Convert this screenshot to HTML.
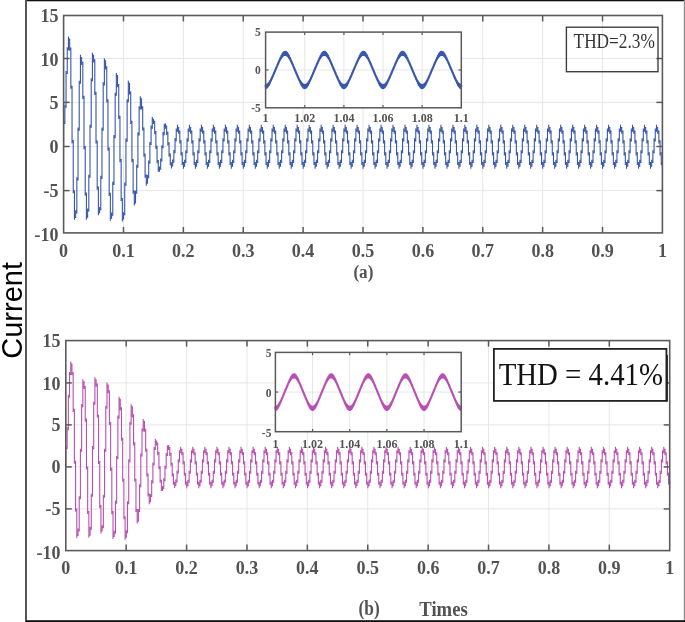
<!DOCTYPE html>
<html><head><meta charset="utf-8"><style>
html,body{margin:0;padding:0;background:#fff;}
body{width:685px;height:622px;overflow:hidden;}
svg{display:block;}
svg{will-change:transform;}
.tk{font-family:"Liberation Serif",serif;font-weight:bold;fill:#525252;}
.thd{font-family:"Liberation Serif",serif;}
.cur{font-family:"Liberation Sans",sans-serif;fill:#000;}
</style></head><body>
<svg width="685" height="622" viewBox="0 0 685 622">
<rect width="685" height="622" fill="#fff"/>
<line x1="123.48" y1="15.5" x2="123.48" y2="232.9" stroke="#e6e6e6" stroke-width="1"/>
<line x1="183.36" y1="15.5" x2="183.36" y2="232.9" stroke="#e6e6e6" stroke-width="1"/>
<line x1="243.24" y1="15.5" x2="243.24" y2="232.9" stroke="#e6e6e6" stroke-width="1"/>
<line x1="303.12" y1="15.5" x2="303.12" y2="232.9" stroke="#e6e6e6" stroke-width="1"/>
<line x1="363" y1="15.5" x2="363" y2="232.9" stroke="#e6e6e6" stroke-width="1"/>
<line x1="422.88" y1="15.5" x2="422.88" y2="232.9" stroke="#e6e6e6" stroke-width="1"/>
<line x1="482.76" y1="15.5" x2="482.76" y2="232.9" stroke="#e6e6e6" stroke-width="1"/>
<line x1="542.64" y1="15.5" x2="542.64" y2="232.9" stroke="#e6e6e6" stroke-width="1"/>
<line x1="602.52" y1="15.5" x2="602.52" y2="232.9" stroke="#e6e6e6" stroke-width="1"/>
<line x1="63.6" y1="58.5" x2="662.4" y2="58.5" stroke="#e6e6e6" stroke-width="1"/>
<line x1="63.6" y1="102.4" x2="662.4" y2="102.4" stroke="#e6e6e6" stroke-width="1"/>
<line x1="63.6" y1="146.5" x2="662.4" y2="146.5" stroke="#e6e6e6" stroke-width="1"/>
<line x1="63.6" y1="190.6" x2="662.4" y2="190.6" stroke="#e6e6e6" stroke-width="1"/>
<path d="M63.6 146.5V120.92V126.21V123.57H64.86V109.96V104.66V107.31H66.06V70.91V76.18V73.54H67.25V52.39V47.23V49.81H68.45V36.59V41.75V39.17H69.65V50.63V45.47V48.05H70.85V83.55V88.82V86.19H72.04V143.17V137.87V140.52H73.24V188.15V193.33V190.79H74.44V219.87V214.8V217.34H75.64V210.3V215.38V212.84H76.83V182.64V177.35V179.99H78.03V127.47V132.76V130.12H79.23V85.94V80.67V83.31H80.43V54.85V60.04V57.43H81.62V64.93V59.66V62.3H82.82V93.73V99V96.36H84.02V149.22V143.93V146.58H85.22V190.62V195.69V193.16H86.41V219.63V214.55V217.09H87.61V208.52V213.59V211.06H88.81V179.93V174.63V177.28H90.01V124.65V129.95V127.3H91.2V83.45V78.18V80.81H92.4V52.68V57.84V55.26H93.6V62.42V57.18V59.78H94.8V89.76V95.02V92.39H96V143.58V138.28V140.93H97.19V184.5V189.79V187.14H98.39V215.26V210.19V212.72H99.59V207.09V212.17V209.63H100.79V181.02V175.73V178.37H101.98V127.5V132.79V130.14H103.18V87.62V82.35V84.99H104.38V58.19V63.45V60.82H105.58V69.43V64.16V66.79H106.77V97.24V102.51V99.88H107.97V150.7V145.41V148.05H109.17V190.83V195.9V193.37H110.37V220.81V215.74V218.28H111.56V212.62V217.7V215.16H112.76V187.14V181.85V184.49H113.96V134.95V140.24V137.6H115.16V97.96V92.69V95.32H116.35V72.91V78.18V75.54H117.55V87.24V81.98V84.61H118.75V113.69V118.99V116.34H119.95V162.18V156.89V159.53H121.14V195.94V201.02V198.48H122.34V221.6V216.53V219.06H123.54V212.16V217.23V214.69H124.74V187.84V182.55V185.2H125.94V138.49V143.79V141.14H127.13V104.4V99.13V101.76H128.33V80.78V86.05V83.42H129.53V94.57V89.31V91.94H130.73V118.64V123.93V121.29H131.92V162.2V156.91V159.56H133.12V188.55V193.71V191.17H134.32V205.41V200.33V202.87H135.52V190.76V195.83V193.29H136.71V169.93V164.63V167.28H137.91V132.34V137.63V134.98H139.11V111.5V106.21V108.85H140.31V96.25V101.52V98.89H141.5V109.56V104.27V106.92H142.7V125.33V130.62V127.97H143.9V156.65V151.36V154H145.1V172.41V177.71V175.06H146.29V185.75V180.46V183.1H147.49V175V180.29V177.65H148.69V165.79V160.5V163.15H149.89V141.9V147.19V144.54H151.08V130.84V125.54V128.19H152.28V117.02V122.31V119.66H153.48V124.06V118.77V121.41H154.68V128.86V134.15V131.5H155.88V148.93V143.63V146.28H157.07V157.86V163.16V160.51H158.27V171.8V166.51V169.16H159.47V166.57V171.86V169.21H160.67V163.69V158.4V161.04H161.86V145.18V150.47V147.82H163.06V137.25V131.96V134.6H164.26V123.79V129.08V126.43H165.46V128.8V123.51V126.15H166.65V129.69V134.98V132.33H167.85V145.38V140.09V142.73H169.05V151.4V156.69V154.05H170.25V165.33V160.04V162.68H171.44V163.26V168.55V165.9H172.64V164.88V159.59V162.23H173.84V149.97V155.26V152.62H175.04V143.38V138.09V140.73H176.23V128.47V133.77V131.12H177.43V130.09V124.8V127.45H178.63V128.5V133.79V131.15H179.83V143.47V138.18V140.83H181.02V150.15V155.44V152.79H182.22V165.12V159.83V162.47H183.42V163.52V168.81V166.17H184.62V165.12V159.83V162.47H185.82V150.15V155.44V152.79H187.01V143.47V138.18V140.83H188.21V128.5V133.79V131.15H189.41V130.09V124.8V127.45H190.61V128.5V133.79V131.15H191.8V143.47V138.18V140.83H193V150.15V155.44V152.79H194.2V165.12V159.83V162.47H195.4V163.52V168.81V166.17H196.59V165.12V159.83V162.47H197.79V150.15V155.44V152.79H198.99V143.47V138.18V140.83H200.19V128.5V133.79V131.15H201.38V130.09V124.8V127.45H202.58V128.5V133.79V131.15H203.78V143.47V138.18V140.83H204.98V150.15V155.44V152.79H206.17V165.12V159.83V162.47H207.37V163.52V168.81V166.17H208.57V165.12V159.83V162.47H209.77V150.15V155.44V152.79H210.96V143.47V138.18V140.83H212.16V128.5V133.79V131.15H213.36V130.09V124.8V127.45H214.56V128.5V133.79V131.15H215.76V143.47V138.18V140.83H216.95V150.15V155.44V152.79H218.15V165.12V159.83V162.47H219.35V163.52V168.81V166.17H220.55V165.12V159.83V162.47H221.74V150.15V155.44V152.79H222.94V143.47V138.18V140.83H224.14V128.5V133.79V131.15H225.34V130.09V124.8V127.45H226.53V128.5V133.79V131.15H227.73V143.47V138.18V140.83H228.93V150.15V155.44V152.79H230.13V165.12V159.83V162.47H231.32V163.52V168.81V166.17H232.52V165.12V159.83V162.47H233.72V150.15V155.44V152.79H234.92V143.47V138.18V140.83H236.11V128.5V133.79V131.15H237.31V130.09V124.8V127.45H238.51V128.5V133.79V131.15H239.71V143.47V138.18V140.83H240.9V150.15V155.44V152.79H242.1V165.12V159.83V162.47H243.3V163.52V168.81V166.17H244.5V165.12V159.83V162.47H245.7V150.15V155.44V152.79H246.89V143.47V138.18V140.83H248.09V128.5V133.79V131.15H249.29V130.09V124.8V127.45H250.49V128.5V133.79V131.15H251.68V143.47V138.18V140.83H252.88V150.15V155.44V152.79H254.08V165.12V159.83V162.47H255.28V163.52V168.81V166.17H256.47V165.12V159.83V162.47H257.67V150.15V155.44V152.79H258.87V143.47V138.18V140.83H260.07V128.5V133.79V131.15H261.26V130.09V124.8V127.45H262.46V128.5V133.79V131.15H263.66V143.47V138.18V140.83H264.86V150.15V155.44V152.79H266.05V165.12V159.83V162.47H267.25V163.52V168.81V166.17H268.45V165.12V159.83V162.47H269.65V150.15V155.44V152.79H270.84V143.47V138.18V140.83H272.04V128.5V133.79V131.15H273.24V130.09V124.8V127.45H274.44V128.5V133.79V131.15H275.64V143.47V138.18V140.83H276.83V150.15V155.44V152.79H278.03V165.12V159.83V162.47H279.23V163.52V168.81V166.17H280.43V165.12V159.83V162.47H281.62V150.15V155.44V152.79H282.82V143.47V138.18V140.83H284.02V128.5V133.79V131.15H285.22V130.09V124.8V127.45H286.41V128.5V133.79V131.15H287.61V143.47V138.18V140.83H288.81V150.15V155.44V152.79H290.01V165.12V159.83V162.47H291.2V163.52V168.81V166.17H292.4V165.12V159.83V162.47H293.6V150.15V155.44V152.79H294.8V143.47V138.18V140.83H295.99V128.5V133.79V131.15H297.19V130.09V124.8V127.45H298.39V128.5V133.79V131.15H299.59V143.47V138.18V140.83H300.78V150.15V155.44V152.79H301.98V165.12V159.83V162.47H303.18V163.52V168.81V166.17H304.38V165.12V159.83V162.47H305.58V150.15V155.44V152.79H306.77V143.47V138.18V140.83H307.97V128.5V133.79V131.15H309.17V130.09V124.8V127.45H310.37V128.5V133.79V131.15H311.56V143.47V138.18V140.83H312.76V150.15V155.44V152.79H313.96V165.12V159.83V162.47H315.16V163.52V168.81V166.17H316.35V165.12V159.83V162.47H317.55V150.15V155.44V152.79H318.75V143.47V138.18V140.83H319.95V128.5V133.79V131.15H321.14V130.09V124.8V127.45H322.34V128.5V133.79V131.15H323.54V143.47V138.18V140.83H324.74V150.15V155.44V152.79H325.93V165.12V159.83V162.47H327.13V163.52V168.81V166.17H328.33V165.12V159.83V162.47H329.53V150.15V155.44V152.79H330.72V143.47V138.18V140.83H331.92V128.5V133.79V131.15H333.12V130.09V124.8V127.45H334.32V128.5V133.79V131.15H335.52V143.47V138.18V140.83H336.71V150.15V155.44V152.79H337.91V165.12V159.83V162.47H339.11V163.52V168.81V166.17H340.31V165.12V159.83V162.47H341.5V150.15V155.44V152.79H342.7V143.47V138.18V140.83H343.9V128.5V133.79V131.15H345.1V130.09V124.8V127.45H346.29V128.5V133.79V131.15H347.49V143.47V138.18V140.83H348.69V150.15V155.44V152.79H349.89V165.12V159.83V162.47H351.08V163.52V168.81V166.17H352.28V165.12V159.83V162.47H353.48V150.15V155.44V152.79H354.68V143.47V138.18V140.83H355.87V128.5V133.79V131.15H357.07V130.09V124.8V127.45H358.27V128.5V133.79V131.15H359.47V143.47V138.18V140.83H360.66V150.15V155.44V152.79H361.86V165.12V159.83V162.47H363.06V163.52V168.81V166.17H364.26V165.12V159.83V162.47H365.46V150.15V155.44V152.79H366.65V143.47V138.18V140.83H367.85V128.5V133.79V131.15H369.05V130.09V124.8V127.45H370.25V128.5V133.79V131.15H371.44V143.47V138.18V140.83H372.64V150.15V155.44V152.79H373.84V165.12V159.83V162.47H375.04V163.52V168.81V166.17H376.23V165.12V159.83V162.47H377.43V150.15V155.44V152.79H378.63V143.47V138.18V140.83H379.83V128.5V133.79V131.15H381.02V130.09V124.8V127.45H382.22V128.5V133.79V131.15H383.42V143.47V138.18V140.83H384.62V150.15V155.44V152.79H385.81V165.12V159.83V162.47H387.01V163.52V168.81V166.17H388.21V165.12V159.83V162.47H389.41V150.15V155.44V152.79H390.6V143.47V138.18V140.83H391.8V128.5V133.79V131.15H393V130.09V124.8V127.45H394.2V128.5V133.79V131.15H395.4V143.47V138.18V140.83H396.59V150.15V155.44V152.79H397.79V165.12V159.83V162.47H398.99V163.52V168.81V166.17H400.19V165.12V159.83V162.47H401.38V150.15V155.44V152.79H402.58V143.47V138.18V140.83H403.78V128.5V133.79V131.15H404.98V130.09V124.8V127.45H406.17V128.5V133.79V131.15H407.37V143.47V138.18V140.83H408.57V150.15V155.44V152.79H409.77V165.12V159.83V162.47H410.96V163.52V168.81V166.17H412.16V165.12V159.83V162.47H413.36V150.15V155.44V152.79H414.56V143.47V138.18V140.83H415.75V128.5V133.79V131.15H416.95V130.09V124.8V127.45H418.15V128.5V133.79V131.15H419.35V143.47V138.18V140.83H420.54V150.15V155.44V152.79H421.74V165.12V159.83V162.47H422.94V163.52V168.81V166.17H424.14V165.12V159.83V162.47H425.34V150.15V155.44V152.79H426.53V143.47V138.18V140.83H427.73V128.5V133.79V131.15H428.93V130.09V124.8V127.45H430.13V128.5V133.79V131.15H431.32V143.47V138.18V140.83H432.52V150.15V155.44V152.79H433.72V165.12V159.83V162.47H434.92V163.52V168.81V166.17H436.11V165.12V159.83V162.47H437.31V150.15V155.44V152.79H438.51V143.47V138.18V140.83H439.71V128.5V133.79V131.15H440.9V130.09V124.8V127.45H442.1V128.5V133.79V131.15H443.3V143.47V138.18V140.83H444.5V150.15V155.44V152.79H445.69V165.12V159.83V162.47H446.89V163.52V168.81V166.17H448.09V165.12V159.83V162.47H449.29V150.15V155.44V152.79H450.48V143.47V138.18V140.83H451.68V128.5V133.79V131.15H452.88V130.09V124.8V127.45H454.08V128.5V133.79V131.15H455.28V143.47V138.18V140.83H456.47V150.15V155.44V152.79H457.67V165.12V159.83V162.47H458.87V163.52V168.81V166.17H460.07V165.12V159.83V162.47H461.26V150.15V155.44V152.79H462.46V143.47V138.18V140.83H463.66V128.5V133.79V131.15H464.86V130.09V124.8V127.45H466.05V128.5V133.79V131.15H467.25V143.47V138.18V140.83H468.45V150.15V155.44V152.79H469.65V165.12V159.83V162.47H470.84V163.52V168.81V166.17H472.04V165.12V159.83V162.47H473.24V150.15V155.44V152.79H474.44V143.47V138.18V140.83H475.63V128.5V133.79V131.15H476.83V130.09V124.8V127.45H478.03V128.5V133.79V131.15H479.23V143.47V138.18V140.83H480.42V150.15V155.44V152.79H481.62V165.12V159.83V162.47H482.82V163.52V168.81V166.17H484.02V165.12V159.83V162.47H485.22V150.15V155.44V152.79H486.41V143.47V138.18V140.83H487.61V128.5V133.79V131.15H488.81V130.09V124.8V127.45H490.01V128.5V133.79V131.15H491.2V143.47V138.18V140.83H492.4V150.15V155.44V152.79H493.6V165.12V159.83V162.47H494.8V163.52V168.81V166.17H495.99V165.12V159.83V162.47H497.19V150.15V155.44V152.79H498.39V143.47V138.18V140.83H499.59V128.5V133.79V131.15H500.78V130.09V124.8V127.45H501.98V128.5V133.79V131.15H503.18V143.47V138.18V140.83H504.38V150.15V155.44V152.79H505.57V165.12V159.83V162.47H506.77V163.52V168.81V166.17H507.97V165.12V159.83V162.47H509.17V150.15V155.44V152.79H510.36V143.47V138.18V140.83H511.56V128.5V133.79V131.15H512.76V130.09V124.8V127.45H513.96V128.5V133.79V131.15H515.16V143.47V138.18V140.83H516.35V150.15V155.44V152.79H517.55V165.12V159.83V162.47H518.75V163.52V168.81V166.17H519.95V165.12V159.83V162.47H521.14V150.15V155.44V152.79H522.34V143.47V138.18V140.83H523.54V128.5V133.79V131.15H524.74V130.09V124.8V127.45H525.93V128.5V133.79V131.15H527.13V143.47V138.18V140.83H528.33V150.15V155.44V152.79H529.53V165.12V159.83V162.47H530.72V163.52V168.81V166.17H531.92V165.12V159.83V162.47H533.12V150.15V155.44V152.79H534.32V143.47V138.18V140.83H535.51V128.5V133.79V131.15H536.71V130.09V124.8V127.45H537.91V128.5V133.79V131.15H539.11V143.47V138.18V140.83H540.3V150.15V155.44V152.79H541.5V165.12V159.83V162.47H542.7V163.52V168.81V166.17H543.9V165.12V159.83V162.47H545.1V150.15V155.44V152.79H546.29V143.47V138.18V140.83H547.49V128.5V133.79V131.15H548.69V130.09V124.8V127.45H549.89V128.5V133.79V131.15H551.08V143.47V138.18V140.83H552.28V150.15V155.44V152.79H553.48V165.12V159.83V162.47H554.68V163.52V168.81V166.17H555.87V165.12V159.83V162.47H557.07V150.15V155.44V152.79H558.27V143.47V138.18V140.83H559.47V128.5V133.79V131.15H560.66V130.09V124.8V127.45H561.86V128.5V133.79V131.15H563.06V143.47V138.18V140.83H564.26V150.15V155.44V152.79H565.45V165.12V159.83V162.47H566.65V163.52V168.81V166.17H567.85V165.12V159.83V162.47H569.05V150.15V155.44V152.79H570.24V143.47V138.18V140.83H571.44V128.5V133.79V131.15H572.64V130.09V124.8V127.45H573.84V128.5V133.79V131.15H575.04V143.47V138.18V140.83H576.23V150.15V155.44V152.79H577.43V165.12V159.83V162.47H578.63V163.52V168.81V166.17H579.83V165.12V159.83V162.47H581.02V150.15V155.44V152.79H582.22V143.47V138.18V140.83H583.42V128.5V133.79V131.15H584.62V130.09V124.8V127.45H585.81V128.5V133.79V131.15H587.01V143.47V138.18V140.83H588.21V150.15V155.44V152.79H589.41V165.12V159.83V162.47H590.6V163.52V168.81V166.17H591.8V165.12V159.83V162.47H593V150.15V155.44V152.79H594.2V143.47V138.18V140.83H595.39V128.5V133.79V131.15H596.59V130.09V124.8V127.45H597.79V128.5V133.79V131.15H598.99V143.47V138.18V140.83H600.18V150.15V155.44V152.79H601.38V165.12V159.83V162.47H602.58V163.52V168.81V166.17H603.78V165.12V159.83V162.47H604.98V150.15V155.44V152.79H606.17V143.47V138.18V140.83H607.37V128.5V133.79V131.15H608.57V130.09V124.8V127.45H609.77V128.5V133.79V131.15H610.96V143.47V138.18V140.83H612.16V150.15V155.44V152.79H613.36V165.12V159.83V162.47H614.56V163.52V168.81V166.17H615.75V165.12V159.83V162.47H616.95V150.15V155.44V152.79H618.15V143.47V138.18V140.83H619.35V128.5V133.79V131.15H620.54V130.09V124.8V127.45H621.74V128.5V133.79V131.15H622.94V143.47V138.18V140.83H624.14V150.15V155.44V152.79H625.33V165.12V159.83V162.47H626.53V163.52V168.81V166.17H627.73V165.12V159.83V162.47H628.93V150.15V155.44V152.79H630.12V143.47V138.18V140.83H631.32V128.5V133.79V131.15H632.52V130.09V124.8V127.45H633.72V128.5V133.79V131.15H634.92V143.47V138.18V140.83H636.11V150.15V155.44V152.79H637.31V165.12V159.83V162.47H638.51V163.52V168.81V166.17H639.71V165.12V159.83V162.47H640.9V150.15V155.44V152.79H642.1V143.47V138.18V140.83H643.3V128.5V133.79V131.15H644.5V130.09V124.8V127.45H645.69V128.5V133.79V131.15H646.89V143.47V138.18V140.83H648.09V150.15V155.44V152.79H649.29V165.12V159.83V162.47H650.48V163.52V168.81V166.17H651.68V165.12V159.83V162.47H652.88V150.15V155.44V152.79H654.08V143.47V138.18V140.83H655.27V128.5V133.79V131.15H656.47V130.09V124.8V127.45H657.67V128.5V133.79V131.15H658.87V143.47V138.18V140.83H660.06V150.15V155.44V152.79H661.26V165.12V159.83V162.47H662.4V163.52V168.81V166.17H662.4" fill="none" stroke="#3856ac" stroke-width="1.1" stroke-linejoin="miter"/>
<rect x="63.6" y="15.5" width="598.8" height="217.4" fill="none" stroke="#5a5a5a" stroke-width="1.6"/>
<line x1="123.48" y1="15.5" x2="123.48" y2="21.5" stroke="#5a5a5a" stroke-width="1.5"/>
<line x1="123.48" y1="232.9" x2="123.48" y2="226.9" stroke="#5a5a5a" stroke-width="1.5"/>
<line x1="183.36" y1="15.5" x2="183.36" y2="21.5" stroke="#5a5a5a" stroke-width="1.5"/>
<line x1="183.36" y1="232.9" x2="183.36" y2="226.9" stroke="#5a5a5a" stroke-width="1.5"/>
<line x1="243.24" y1="15.5" x2="243.24" y2="21.5" stroke="#5a5a5a" stroke-width="1.5"/>
<line x1="243.24" y1="232.9" x2="243.24" y2="226.9" stroke="#5a5a5a" stroke-width="1.5"/>
<line x1="303.12" y1="15.5" x2="303.12" y2="21.5" stroke="#5a5a5a" stroke-width="1.5"/>
<line x1="303.12" y1="232.9" x2="303.12" y2="226.9" stroke="#5a5a5a" stroke-width="1.5"/>
<line x1="363" y1="15.5" x2="363" y2="21.5" stroke="#5a5a5a" stroke-width="1.5"/>
<line x1="363" y1="232.9" x2="363" y2="226.9" stroke="#5a5a5a" stroke-width="1.5"/>
<line x1="422.88" y1="15.5" x2="422.88" y2="21.5" stroke="#5a5a5a" stroke-width="1.5"/>
<line x1="422.88" y1="232.9" x2="422.88" y2="226.9" stroke="#5a5a5a" stroke-width="1.5"/>
<line x1="482.76" y1="15.5" x2="482.76" y2="21.5" stroke="#5a5a5a" stroke-width="1.5"/>
<line x1="482.76" y1="232.9" x2="482.76" y2="226.9" stroke="#5a5a5a" stroke-width="1.5"/>
<line x1="542.64" y1="15.5" x2="542.64" y2="21.5" stroke="#5a5a5a" stroke-width="1.5"/>
<line x1="542.64" y1="232.9" x2="542.64" y2="226.9" stroke="#5a5a5a" stroke-width="1.5"/>
<line x1="602.52" y1="15.5" x2="602.52" y2="21.5" stroke="#5a5a5a" stroke-width="1.5"/>
<line x1="602.52" y1="232.9" x2="602.52" y2="226.9" stroke="#5a5a5a" stroke-width="1.5"/>
<line x1="63.6" y1="58.5" x2="69.6" y2="58.5" stroke="#5a5a5a" stroke-width="1.5"/>
<line x1="662.4" y1="58.5" x2="656.4" y2="58.5" stroke="#5a5a5a" stroke-width="1.5"/>
<line x1="63.6" y1="102.4" x2="69.6" y2="102.4" stroke="#5a5a5a" stroke-width="1.5"/>
<line x1="662.4" y1="102.4" x2="656.4" y2="102.4" stroke="#5a5a5a" stroke-width="1.5"/>
<line x1="63.6" y1="146.5" x2="69.6" y2="146.5" stroke="#5a5a5a" stroke-width="1.5"/>
<line x1="662.4" y1="146.5" x2="656.4" y2="146.5" stroke="#5a5a5a" stroke-width="1.5"/>
<line x1="63.6" y1="190.6" x2="69.6" y2="190.6" stroke="#5a5a5a" stroke-width="1.5"/>
<line x1="662.4" y1="190.6" x2="656.4" y2="190.6" stroke="#5a5a5a" stroke-width="1.5"/>
<text x="58.4" y="22.3" text-anchor="end" class="tk" font-size="18">15</text>
<text x="58.4" y="65.7" text-anchor="end" class="tk" font-size="18">10</text>
<text x="58.4" y="108.9" text-anchor="end" class="tk" font-size="18">5</text>
<text x="58.4" y="152.9" text-anchor="end" class="tk" font-size="18">0</text>
<text x="58.4" y="196.6" text-anchor="end" class="tk" font-size="18">-5</text>
<text x="58.4" y="240.8" text-anchor="end" class="tk" font-size="18">-10</text>
<text x="63.6" y="257.1" text-anchor="middle" class="tk" font-size="18">0</text>
<text x="123.48" y="257.1" text-anchor="middle" class="tk" font-size="18">0.1</text>
<text x="183.36" y="257.1" text-anchor="middle" class="tk" font-size="18">0.2</text>
<text x="243.24" y="257.1" text-anchor="middle" class="tk" font-size="18">0.3</text>
<text x="303.12" y="257.1" text-anchor="middle" class="tk" font-size="18">0.4</text>
<text x="363" y="257.1" text-anchor="middle" class="tk" font-size="18">0.5</text>
<text x="422.88" y="257.1" text-anchor="middle" class="tk" font-size="18">0.6</text>
<text x="482.76" y="257.1" text-anchor="middle" class="tk" font-size="18">0.7</text>
<text x="542.64" y="257.1" text-anchor="middle" class="tk" font-size="18">0.8</text>
<text x="602.52" y="257.1" text-anchor="middle" class="tk" font-size="18">0.9</text>
<text x="662.4" y="257.1" text-anchor="middle" class="tk" font-size="18">1</text>
<rect x="265.6" y="32.1" width="195.7" height="75.7" fill="#fff"/>
<line x1="304.74" y1="32.1" x2="304.74" y2="107.8" stroke="#e6e6e6" stroke-width="1"/>
<line x1="343.88" y1="32.1" x2="343.88" y2="107.8" stroke="#e6e6e6" stroke-width="1"/>
<line x1="383.02" y1="32.1" x2="383.02" y2="107.8" stroke="#e6e6e6" stroke-width="1"/>
<line x1="422.16" y1="32.1" x2="422.16" y2="107.8" stroke="#e6e6e6" stroke-width="1"/>
<line x1="265.6" y1="69.95" x2="461.3" y2="69.95" stroke="#e6e6e6" stroke-width="1"/>
<path d="M265.6 85.09L266.07 88.05L266.53 84.91L267 87.5L267.46 84.38L267.93 86.43L268.4 83.52L268.86 84.94L269.33 82.35L269.79 83.1L270.26 80.9L270.73 81.04L271.19 79.23L271.66 78.86L272.12 77.36L272.59 76.62L273.06 75.35L273.52 74.38L273.99 73.23L274.45 72.15L274.92 71.05L275.38 69.95L275.85 68.85L276.32 67.76L276.78 66.64L277.25 65.6L277.71 64.41L278.18 63.53L278.65 62.16L279.11 61.59L279.58 59.94L280.04 59.81L280.51 57.8L280.98 58.24L281.44 55.84L281.91 56.93L282.37 54.17L282.84 55.91L283.31 52.88L283.77 55.21L284.24 52.06L284.7 54.85L285.17 51.78L285.64 54.85L286.1 52.06L286.57 55.21L287.03 52.88L287.5 55.91L287.97 54.17L288.43 56.93L288.9 55.84L289.36 58.24L289.83 57.8L290.3 59.81L290.76 59.94L291.23 61.59L291.69 62.16L292.16 63.53L292.63 64.41L293.09 65.6L293.56 66.64L294.02 67.76L294.49 68.85L294.95 69.95L295.42 71.05L295.89 72.15L296.35 73.23L296.82 74.38L297.28 75.35L297.75 76.62L298.22 77.36L298.68 78.86L299.15 79.23L299.61 81.04L300.08 80.9L300.55 83.1L301.01 82.35L301.48 84.94L301.94 83.52L302.41 86.43L302.88 84.38L303.34 87.5L303.81 84.91L304.27 88.05L304.74 85.09L305.21 88.05L305.67 84.91L306.14 87.5L306.6 84.38L307.07 86.43L307.54 83.52L308 84.94L308.47 82.35L308.93 83.1L309.4 80.9L309.87 81.04L310.33 79.23L310.8 78.86L311.26 77.36L311.73 76.62L312.2 75.35L312.66 74.38L313.13 73.23L313.59 72.15L314.06 71.05L314.52 69.95L314.99 68.85L315.46 67.76L315.92 66.64L316.39 65.6L316.85 64.41L317.32 63.53L317.79 62.16L318.25 61.59L318.72 59.94L319.18 59.81L319.65 57.8L320.12 58.24L320.58 55.84L321.05 56.93L321.51 54.17L321.98 55.91L322.45 52.88L322.91 55.21L323.38 52.06L323.84 54.85L324.31 51.78L324.78 54.85L325.24 52.06L325.71 55.21L326.17 52.88L326.64 55.91L327.11 54.17L327.57 56.93L328.04 55.84L328.5 58.24L328.97 57.8L329.44 59.81L329.9 59.94L330.37 61.59L330.83 62.16L331.3 63.53L331.77 64.41L332.23 65.6L332.7 66.64L333.16 67.76L333.63 68.85L334.09 69.95L334.56 71.05L335.03 72.15L335.49 73.23L335.96 74.38L336.42 75.35L336.89 76.62L337.36 77.36L337.82 78.86L338.29 79.23L338.75 81.04L339.22 80.9L339.69 83.1L340.15 82.35L340.62 84.94L341.08 83.52L341.55 86.43L342.02 84.38L342.48 87.5L342.95 84.91L343.41 88.05L343.88 85.09L344.35 88.05L344.81 84.91L345.28 87.5L345.74 84.38L346.21 86.43L346.68 83.52L347.14 84.94L347.61 82.35L348.07 83.1L348.54 80.9L349.01 81.04L349.47 79.23L349.94 78.86L350.4 77.36L350.87 76.62L351.34 75.35L351.8 74.38L352.27 73.23L352.73 72.15L353.2 71.05L353.66 69.95L354.13 68.85L354.6 67.76L355.06 66.64L355.53 65.6L355.99 64.41L356.46 63.53L356.93 62.16L357.39 61.59L357.86 59.94L358.32 59.81L358.79 57.8L359.26 58.24L359.72 55.84L360.19 56.93L360.65 54.17L361.12 55.91L361.59 52.88L362.05 55.21L362.52 52.06L362.98 54.85L363.45 51.78L363.92 54.85L364.38 52.06L364.85 55.21L365.31 52.88L365.78 55.91L366.25 54.17L366.71 56.93L367.18 55.84L367.64 58.24L368.11 57.8L368.58 59.81L369.04 59.94L369.51 61.59L369.97 62.16L370.44 63.53L370.91 64.41L371.37 65.6L371.84 66.64L372.3 67.76L372.77 68.85L373.23 69.95L373.7 71.05L374.17 72.15L374.63 73.23L375.1 74.38L375.56 75.35L376.03 76.62L376.5 77.36L376.96 78.86L377.43 79.23L377.89 81.04L378.36 80.9L378.83 83.1L379.29 82.35L379.76 84.94L380.22 83.52L380.69 86.43L381.16 84.38L381.62 87.5L382.09 84.91L382.55 88.05L383.02 85.09L383.49 88.05L383.95 84.91L384.42 87.5L384.88 84.38L385.35 86.43L385.82 83.52L386.28 84.94L386.75 82.35L387.21 83.1L387.68 80.9L388.15 81.04L388.61 79.23L389.08 78.86L389.54 77.36L390.01 76.62L390.48 75.35L390.94 74.38L391.41 73.23L391.87 72.15L392.34 71.05L392.8 69.95L393.27 68.85L393.74 67.76L394.2 66.64L394.67 65.6L395.13 64.41L395.6 63.53L396.07 62.16L396.53 61.59L397 59.94L397.46 59.81L397.93 57.8L398.4 58.24L398.86 55.84L399.33 56.93L399.79 54.17L400.26 55.91L400.73 52.88L401.19 55.21L401.66 52.06L402.12 54.85L402.59 51.78L403.06 54.85L403.52 52.06L403.99 55.21L404.45 52.88L404.92 55.91L405.39 54.17L405.85 56.93L406.32 55.84L406.78 58.24L407.25 57.8L407.72 59.81L408.18 59.94L408.65 61.59L409.11 62.16L409.58 63.53L410.05 64.41L410.51 65.6L410.98 66.64L411.44 67.76L411.91 68.85L412.37 69.95L412.84 71.05L413.31 72.15L413.77 73.23L414.24 74.38L414.7 75.35L415.17 76.62L415.64 77.36L416.1 78.86L416.57 79.23L417.03 81.04L417.5 80.9L417.97 83.1L418.43 82.35L418.9 84.94L419.36 83.52L419.83 86.43L420.3 84.38L420.76 87.5L421.23 84.91L421.69 88.05L422.16 85.09L422.63 88.05L423.09 84.91L423.56 87.5L424.02 84.38L424.49 86.43L424.96 83.52L425.42 84.94L425.89 82.35L426.35 83.1L426.82 80.9L427.29 81.04L427.75 79.23L428.22 78.86L428.68 77.36L429.15 76.62L429.62 75.35L430.08 74.38L430.55 73.23L431.01 72.15L431.48 71.05L431.94 69.95L432.41 68.85L432.88 67.76L433.34 66.64L433.81 65.6L434.27 64.41L434.74 63.53L435.21 62.16L435.67 61.59L436.14 59.94L436.6 59.81L437.07 57.8L437.54 58.24L438 55.84L438.47 56.93L438.93 54.17L439.4 55.91L439.87 52.88L440.33 55.21L440.8 52.06L441.26 54.85L441.73 51.78L442.2 54.85L442.66 52.06L443.13 55.21L443.59 52.88L444.06 55.91L444.53 54.17L444.99 56.93L445.46 55.84L445.92 58.24L446.39 57.8L446.86 59.81L447.32 59.94L447.79 61.59L448.25 62.16L448.72 63.53L449.19 64.41L449.65 65.6L450.12 66.64L450.58 67.76L451.05 68.85L451.51 69.95L451.98 71.05L452.45 72.15L452.91 73.23L453.38 74.38L453.84 75.35L454.31 76.62L454.78 77.36L455.24 78.86L455.71 79.23L456.17 81.04L456.64 80.9L457.11 83.1L457.57 82.35L458.04 84.94L458.5 83.52L458.97 86.43L459.44 84.38L459.9 87.5L460.37 84.91L460.83 88.05L461.3 85.09" fill="none" stroke="#3856ac" stroke-width="2.15" stroke-linejoin="round"/>
<rect x="265.6" y="32.1" width="195.7" height="75.7" fill="none" stroke="#5a5a5a" stroke-width="1.5"/>
<line x1="304.74" y1="32.1" x2="304.74" y2="34.9" stroke="#5a5a5a" stroke-width="1.2"/>
<line x1="304.74" y1="107.8" x2="304.74" y2="105" stroke="#5a5a5a" stroke-width="1.2"/>
<line x1="343.88" y1="32.1" x2="343.88" y2="34.9" stroke="#5a5a5a" stroke-width="1.2"/>
<line x1="343.88" y1="107.8" x2="343.88" y2="105" stroke="#5a5a5a" stroke-width="1.2"/>
<line x1="383.02" y1="32.1" x2="383.02" y2="34.9" stroke="#5a5a5a" stroke-width="1.2"/>
<line x1="383.02" y1="107.8" x2="383.02" y2="105" stroke="#5a5a5a" stroke-width="1.2"/>
<line x1="422.16" y1="32.1" x2="422.16" y2="34.9" stroke="#5a5a5a" stroke-width="1.2"/>
<line x1="422.16" y1="107.8" x2="422.16" y2="105" stroke="#5a5a5a" stroke-width="1.2"/>
<line x1="265.6" y1="69.95" x2="268.4" y2="69.95" stroke="#5a5a5a" stroke-width="1.2"/>
<line x1="461.3" y1="69.95" x2="458.5" y2="69.95" stroke="#5a5a5a" stroke-width="1.2"/>
<text x="260.8" y="36.1" text-anchor="end" class="tk" font-size="11.5">5</text>
<text x="260.8" y="73.95" text-anchor="end" class="tk" font-size="11.5">0</text>
<text x="260.8" y="111.8" text-anchor="end" class="tk" font-size="11.5">-5</text>
<text x="265.6" y="122.1" text-anchor="middle" class="tk" font-size="12">1</text>
<text x="304.74" y="122.1" text-anchor="middle" class="tk" font-size="12">1.02</text>
<text x="343.88" y="122.1" text-anchor="middle" class="tk" font-size="12">1.04</text>
<text x="383.02" y="122.1" text-anchor="middle" class="tk" font-size="12">1.06</text>
<text x="422.16" y="122.1" text-anchor="middle" class="tk" font-size="12">1.08</text>
<text x="461.3" y="122.1" text-anchor="middle" class="tk" font-size="12">1.1</text>
<line x1="126.19" y1="340.6" x2="126.19" y2="550.6" stroke="#e6e6e6" stroke-width="1"/>
<line x1="186.58" y1="340.6" x2="186.58" y2="550.6" stroke="#e6e6e6" stroke-width="1"/>
<line x1="246.97" y1="340.6" x2="246.97" y2="550.6" stroke="#e6e6e6" stroke-width="1"/>
<line x1="307.36" y1="340.6" x2="307.36" y2="550.6" stroke="#e6e6e6" stroke-width="1"/>
<line x1="367.75" y1="340.6" x2="367.75" y2="550.6" stroke="#e6e6e6" stroke-width="1"/>
<line x1="428.14" y1="340.6" x2="428.14" y2="550.6" stroke="#e6e6e6" stroke-width="1"/>
<line x1="488.53" y1="340.6" x2="488.53" y2="550.6" stroke="#e6e6e6" stroke-width="1"/>
<line x1="548.92" y1="340.6" x2="548.92" y2="550.6" stroke="#e6e6e6" stroke-width="1"/>
<line x1="609.31" y1="340.6" x2="609.31" y2="550.6" stroke="#e6e6e6" stroke-width="1"/>
<line x1="65.8" y1="382.9" x2="669.7" y2="382.9" stroke="#e6e6e6" stroke-width="1"/>
<line x1="65.8" y1="424.9" x2="669.7" y2="424.9" stroke="#e6e6e6" stroke-width="1"/>
<line x1="65.8" y1="466.9" x2="669.7" y2="466.9" stroke="#e6e6e6" stroke-width="1"/>
<line x1="65.8" y1="508.9" x2="669.7" y2="508.9" stroke="#e6e6e6" stroke-width="1"/>
<path d="M65.8 466.9V445.9V450.94V448.42H67.13V432.1V427.06V429.58H68.34V394.77V399.81V397.29H69.54V376.93V371.89V374.41H70.75V361.5V366.54V364.02H71.96V375.21V370.17V372.69H73.17V406.87V411.91V409.39H74.38V463.72V458.68V461.2H75.58V506.57V511.61V509.09H76.79V537.97V532.93V535.45H78V528.46V533.5V530.98H79.21V501.32V496.28V498.8H80.41V448.78V453.82V451.3H81.62V409.15V404.11V406.63H82.83V379.34V384.38V381.86H84.04V389.05V384.01V386.53H85.25V416.6V421.64V419.12H86.45V469.49V464.45V466.97H87.66V508.92V513.96V511.44H88.87V537.72V532.68V535.2H90.08V526.69V531.73V529.21H91.28V498.74V493.7V496.22H92.49V446.1V451.14V448.62H93.7V406.77V401.73V404.25H94.91V377.21V382.25V379.73H96.12V386.65V381.61V384.13H97.32V412.8V417.84V415.32H98.53V464.12V459.08V461.6H99.74V503.09V508.13V505.61H100.95V533.39V528.35V530.87H102.15V525.28V530.32V527.8H103.36V499.78V494.74V497.26H104.57V448.8V453.84V451.32H105.78V410.76V405.72V408.24H106.99V382.6V387.64V385.12H108.19V393.35V388.31V390.83H109.4V419.97V425.01V422.49H110.61V470.9V465.86V468.38H111.82V509.13V514.17V511.65H113.02V538.9V533.86V536.38H114.23V530.77V535.81V533.29H115.44V505.61V500.57V503.09H116.65V455.9V460.94V458.42H117.86V420.65V415.61V418.13H119.06V396.68V401.72V399.2H120.27V410.4V405.36V407.88H121.48V435.66V440.7V438.18H122.69V481.83V476.79V479.31H123.9V514.2V519.24V516.72H125.1V539.68V534.64V537.16H126.31V530.3V535.34V532.82H127.52V506.27V501.23V503.75H128.73V459.27V464.31V461.79H129.93V426.81V421.77V424.29H131.14V404.22V409.26V406.74H132.35V417.41V412.37V414.89H133.56V440.37V445.41V442.89H134.77V481.85V476.81V479.33H135.97V506.95V511.99V509.47H137.18V523.6V518.56V521.08H138.39V509.05V514.09V511.57H139.6V489.21V484.17V486.69H140.8V453.41V458.45V455.93H142.01V433.57V428.53V431.05H143.22V419.02V424.06V421.54H144.43V431.72V426.68V429.2H145.64V446.74V451.78V449.26H146.84V476.56V471.52V474.04H148.05V491.58V496.62V494.1H149.26V504.28V499.24V501.76H150.47V494.05V499.09V496.57H151.67V485.27V480.23V482.75H152.88V462.52V467.56V465.04H154.09V451.98V446.94V449.46H155.3V438.82V443.86V441.34H156.51V445.53V440.49V443.01H157.71V450.1V455.14V452.62H158.92V469.21V464.17V466.69H160.13V477.72V482.76V480.24H161.34V491V485.96V488.48H162.54V486.01V491.05V488.53H163.75V483.27V478.23V480.75H164.96V465.64V470.68V468.16H166.17V458.09V453.05V455.57H167.38V445.27V450.31V447.79H168.58V450.04V445V447.52H169.79V450.89V455.93V453.41H171V465.83V460.79V463.31H172.21V471.57V476.61V474.09H173.41V484.83V479.79V482.31H174.62V482.86V487.9V485.38H175.83V484.45V479.41V481.93H177.04V470.38V475.42V472.9H178.25V464.26V459.22V461.74H179.45V450.19V455.23V452.71H180.66V451.78V446.74V449.26H181.87V450.23V455.27V452.75H183.08V464.4V459.36V461.88H184.29V470.66V475.7V473.18H185.49V484.83V479.79V482.31H186.7V483.28V488.32V485.8H187.91V484.83V479.79V482.31H189.12V470.66V475.7V473.18H190.32V464.4V459.36V461.88H191.53V450.23V455.27V452.75H192.74V451.78V446.74V449.26H193.95V450.23V455.27V452.75H195.16V464.4V459.36V461.88H196.36V470.66V475.7V473.18H197.57V484.83V479.79V482.31H198.78V483.28V488.32V485.8H199.99V484.83V479.79V482.31H201.19V470.66V475.7V473.18H202.4V464.4V459.36V461.88H203.61V450.23V455.27V452.75H204.82V451.78V446.74V449.26H206.03V450.23V455.27V452.75H207.23V464.4V459.36V461.88H208.44V470.66V475.7V473.18H209.65V484.83V479.79V482.31H210.86V483.28V488.32V485.8H212.06V484.83V479.79V482.31H213.27V470.66V475.7V473.18H214.48V464.4V459.36V461.88H215.69V450.23V455.27V452.75H216.9V451.78V446.74V449.26H218.1V450.23V455.27V452.75H219.31V464.4V459.36V461.88H220.52V470.66V475.7V473.18H221.73V484.83V479.79V482.31H222.93V483.28V488.32V485.8H224.14V484.83V479.79V482.31H225.35V470.66V475.7V473.18H226.56V464.4V459.36V461.88H227.77V450.23V455.27V452.75H228.97V451.78V446.74V449.26H230.18V450.23V455.27V452.75H231.39V464.4V459.36V461.88H232.6V470.66V475.7V473.18H233.8V484.83V479.79V482.31H235.01V483.28V488.32V485.8H236.22V484.83V479.79V482.31H237.43V470.66V475.7V473.18H238.64V464.4V459.36V461.88H239.84V450.23V455.27V452.75H241.05V451.78V446.74V449.26H242.26V450.23V455.27V452.75H243.47V464.4V459.36V461.88H244.68V470.66V475.7V473.18H245.88V484.83V479.79V482.31H247.09V483.28V488.32V485.8H248.3V484.83V479.79V482.31H249.51V470.66V475.7V473.18H250.71V464.4V459.36V461.88H251.92V450.23V455.27V452.75H253.13V451.78V446.74V449.26H254.34V450.23V455.27V452.75H255.55V464.4V459.36V461.88H256.75V470.66V475.7V473.18H257.96V484.83V479.79V482.31H259.17V483.28V488.32V485.8H260.38V484.83V479.79V482.31H261.58V470.66V475.7V473.18H262.79V464.4V459.36V461.88H264V450.23V455.27V452.75H265.21V451.78V446.74V449.26H266.42V450.23V455.27V452.75H267.62V464.4V459.36V461.88H268.83V470.66V475.7V473.18H270.04V484.83V479.79V482.31H271.25V483.28V488.32V485.8H272.45V484.83V479.79V482.31H273.66V470.66V475.7V473.18H274.87V464.4V459.36V461.88H276.08V450.23V455.27V452.75H277.29V451.78V446.74V449.26H278.49V450.23V455.27V452.75H279.7V464.4V459.36V461.88H280.91V470.66V475.7V473.18H282.12V484.83V479.79V482.31H283.32V483.28V488.32V485.8H284.53V484.83V479.79V482.31H285.74V470.66V475.7V473.18H286.95V464.4V459.36V461.88H288.16V450.23V455.27V452.75H289.36V451.78V446.74V449.26H290.57V450.23V455.27V452.75H291.78V464.4V459.36V461.88H292.99V470.66V475.7V473.18H294.19V484.83V479.79V482.31H295.4V483.28V488.32V485.8H296.61V484.83V479.79V482.31H297.82V470.66V475.7V473.18H299.03V464.4V459.36V461.88H300.23V450.23V455.27V452.75H301.44V451.78V446.74V449.26H302.65V450.23V455.27V452.75H303.86V464.4V459.36V461.88H305.07V470.66V475.7V473.18H306.27V484.83V479.79V482.31H307.48V483.28V488.32V485.8H308.69V484.83V479.79V482.31H309.9V470.66V475.7V473.18H311.1V464.4V459.36V461.88H312.31V450.23V455.27V452.75H313.52V451.78V446.74V449.26H314.73V450.23V455.27V452.75H315.94V464.4V459.36V461.88H317.14V470.66V475.7V473.18H318.35V484.83V479.79V482.31H319.56V483.28V488.32V485.8H320.77V484.83V479.79V482.31H321.97V470.66V475.7V473.18H323.18V464.4V459.36V461.88H324.39V450.23V455.27V452.75H325.6V451.78V446.74V449.26H326.81V450.23V455.27V452.75H328.01V464.4V459.36V461.88H329.22V470.66V475.7V473.18H330.43V484.83V479.79V482.31H331.64V483.28V488.32V485.8H332.84V484.83V479.79V482.31H334.05V470.66V475.7V473.18H335.26V464.4V459.36V461.88H336.47V450.23V455.27V452.75H337.68V451.78V446.74V449.26H338.88V450.23V455.27V452.75H340.09V464.4V459.36V461.88H341.3V470.66V475.7V473.18H342.51V484.83V479.79V482.31H343.71V483.28V488.32V485.8H344.92V484.83V479.79V482.31H346.13V470.66V475.7V473.18H347.34V464.4V459.36V461.88H348.55V450.23V455.27V452.75H349.75V451.78V446.74V449.26H350.96V450.23V455.27V452.75H352.17V464.4V459.36V461.88H353.38V470.66V475.7V473.18H354.58V484.83V479.79V482.31H355.79V483.28V488.32V485.8H357V484.83V479.79V482.31H358.21V470.66V475.7V473.18H359.42V464.4V459.36V461.88H360.62V450.23V455.27V452.75H361.83V451.78V446.74V449.26H363.04V450.23V455.27V452.75H364.25V464.4V459.36V461.88H365.46V470.66V475.7V473.18H366.66V484.83V479.79V482.31H367.87V483.28V488.32V485.8H369.08V484.83V479.79V482.31H370.29V470.66V475.7V473.18H371.49V464.4V459.36V461.88H372.7V450.23V455.27V452.75H373.91V451.78V446.74V449.26H375.12V450.23V455.27V452.75H376.33V464.4V459.36V461.88H377.53V470.66V475.7V473.18H378.74V484.83V479.79V482.31H379.95V483.28V488.32V485.8H381.16V484.83V479.79V482.31H382.36V470.66V475.7V473.18H383.57V464.4V459.36V461.88H384.78V450.23V455.27V452.75H385.99V451.78V446.74V449.26H387.2V450.23V455.27V452.75H388.4V464.4V459.36V461.88H389.61V470.66V475.7V473.18H390.82V484.83V479.79V482.31H392.03V483.28V488.32V485.8H393.23V484.83V479.79V482.31H394.44V470.66V475.7V473.18H395.65V464.4V459.36V461.88H396.86V450.23V455.27V452.75H398.07V451.78V446.74V449.26H399.27V450.23V455.27V452.75H400.48V464.4V459.36V461.88H401.69V470.66V475.7V473.18H402.9V484.83V479.79V482.31H404.1V483.28V488.32V485.8H405.31V484.83V479.79V482.31H406.52V470.66V475.7V473.18H407.73V464.4V459.36V461.88H408.94V450.23V455.27V452.75H410.14V451.78V446.74V449.26H411.35V450.23V455.27V452.75H412.56V464.4V459.36V461.88H413.77V470.66V475.7V473.18H414.97V484.83V479.79V482.31H416.18V483.28V488.32V485.8H417.39V484.83V479.79V482.31H418.6V470.66V475.7V473.18H419.81V464.4V459.36V461.88H421.01V450.23V455.27V452.75H422.22V451.78V446.74V449.26H423.43V450.23V455.27V452.75H424.64V464.4V459.36V461.88H425.85V470.66V475.7V473.18H427.05V484.83V479.79V482.31H428.26V483.28V488.32V485.8H429.47V484.83V479.79V482.31H430.68V470.66V475.7V473.18H431.88V464.4V459.36V461.88H433.09V450.23V455.27V452.75H434.3V451.78V446.74V449.26H435.51V450.23V455.27V452.75H436.72V464.4V459.36V461.88H437.92V470.66V475.7V473.18H439.13V484.83V479.79V482.31H440.34V483.28V488.32V485.8H441.55V484.83V479.79V482.31H442.75V470.66V475.7V473.18H443.96V464.4V459.36V461.88H445.17V450.23V455.27V452.75H446.38V451.78V446.74V449.26H447.59V450.23V455.27V452.75H448.79V464.4V459.36V461.88H450V470.66V475.7V473.18H451.21V484.83V479.79V482.31H452.42V483.28V488.32V485.8H453.62V484.83V479.79V482.31H454.83V470.66V475.7V473.18H456.04V464.4V459.36V461.88H457.25V450.23V455.27V452.75H458.46V451.78V446.74V449.26H459.66V450.23V455.27V452.75H460.87V464.4V459.36V461.88H462.08V470.66V475.7V473.18H463.29V484.83V479.79V482.31H464.49V483.28V488.32V485.8H465.7V484.83V479.79V482.31H466.91V470.66V475.7V473.18H468.12V464.4V459.36V461.88H469.33V450.23V455.27V452.75H470.53V451.78V446.74V449.26H471.74V450.23V455.27V452.75H472.95V464.4V459.36V461.88H474.16V470.66V475.7V473.18H475.36V484.83V479.79V482.31H476.57V483.28V488.32V485.8H477.78V484.83V479.79V482.31H478.99V470.66V475.7V473.18H480.2V464.4V459.36V461.88H481.4V450.23V455.27V452.75H482.61V451.78V446.74V449.26H483.82V450.23V455.27V452.75H485.03V464.4V459.36V461.88H486.24V470.66V475.7V473.18H487.44V484.83V479.79V482.31H488.65V483.28V488.32V485.8H489.86V484.83V479.79V482.31H491.07V470.66V475.7V473.18H492.27V464.4V459.36V461.88H493.48V450.23V455.27V452.75H494.69V451.78V446.74V449.26H495.9V450.23V455.27V452.75H497.11V464.4V459.36V461.88H498.31V470.66V475.7V473.18H499.52V484.83V479.79V482.31H500.73V483.28V488.32V485.8H501.94V484.83V479.79V482.31H503.14V470.66V475.7V473.18H504.35V464.4V459.36V461.88H505.56V450.23V455.27V452.75H506.77V451.78V446.74V449.26H507.98V450.23V455.27V452.75H509.18V464.4V459.36V461.88H510.39V470.66V475.7V473.18H511.6V484.83V479.79V482.31H512.81V483.28V488.32V485.8H514.01V484.83V479.79V482.31H515.22V470.66V475.7V473.18H516.43V464.4V459.36V461.88H517.64V450.23V455.27V452.75H518.85V451.78V446.74V449.26H520.05V450.23V455.27V452.75H521.26V464.4V459.36V461.88H522.47V470.66V475.7V473.18H523.68V484.83V479.79V482.31H524.88V483.28V488.32V485.8H526.09V484.83V479.79V482.31H527.3V470.66V475.7V473.18H528.51V464.4V459.36V461.88H529.72V450.23V455.27V452.75H530.92V451.78V446.74V449.26H532.13V450.23V455.27V452.75H533.34V464.4V459.36V461.88H534.55V470.66V475.7V473.18H535.75V484.83V479.79V482.31H536.96V483.28V488.32V485.8H538.17V484.83V479.79V482.31H539.38V470.66V475.7V473.18H540.59V464.4V459.36V461.88H541.79V450.23V455.27V452.75H543V451.78V446.74V449.26H544.21V450.23V455.27V452.75H545.42V464.4V459.36V461.88H546.63V470.66V475.7V473.18H547.83V484.83V479.79V482.31H549.04V483.28V488.32V485.8H550.25V484.83V479.79V482.31H551.46V470.66V475.7V473.18H552.66V464.4V459.36V461.88H553.87V450.23V455.27V452.75H555.08V451.78V446.74V449.26H556.29V450.23V455.27V452.75H557.5V464.4V459.36V461.88H558.7V470.66V475.7V473.18H559.91V484.83V479.79V482.31H561.12V483.28V488.32V485.8H562.33V484.83V479.79V482.31H563.53V470.66V475.7V473.18H564.74V464.4V459.36V461.88H565.95V450.23V455.27V452.75H567.16V451.78V446.74V449.26H568.37V450.23V455.27V452.75H569.57V464.4V459.36V461.88H570.78V470.66V475.7V473.18H571.99V484.83V479.79V482.31H573.2V483.28V488.32V485.8H574.4V484.83V479.79V482.31H575.61V470.66V475.7V473.18H576.82V464.4V459.36V461.88H578.03V450.23V455.27V452.75H579.24V451.78V446.74V449.26H580.44V450.23V455.27V452.75H581.65V464.4V459.36V461.88H582.86V470.66V475.7V473.18H584.07V484.83V479.79V482.31H585.27V483.28V488.32V485.8H586.48V484.83V479.79V482.31H587.69V470.66V475.7V473.18H588.9V464.4V459.36V461.88H590.11V450.23V455.27V452.75H591.31V451.78V446.74V449.26H592.52V450.23V455.27V452.75H593.73V464.4V459.36V461.88H594.94V470.66V475.7V473.18H596.14V484.83V479.79V482.31H597.35V483.28V488.32V485.8H598.56V484.83V479.79V482.31H599.77V470.66V475.7V473.18H600.98V464.4V459.36V461.88H602.18V450.23V455.27V452.75H603.39V451.78V446.74V449.26H604.6V450.23V455.27V452.75H605.81V464.4V459.36V461.88H607.02V470.66V475.7V473.18H608.22V484.83V479.79V482.31H609.43V483.28V488.32V485.8H610.64V484.83V479.79V482.31H611.85V470.66V475.7V473.18H613.05V464.4V459.36V461.88H614.26V450.23V455.27V452.75H615.47V451.78V446.74V449.26H616.68V450.23V455.27V452.75H617.89V464.4V459.36V461.88H619.09V470.66V475.7V473.18H620.3V484.83V479.79V482.31H621.51V483.28V488.32V485.8H622.72V484.83V479.79V482.31H623.92V470.66V475.7V473.18H625.13V464.4V459.36V461.88H626.34V450.23V455.27V452.75H627.55V451.78V446.74V449.26H628.76V450.23V455.27V452.75H629.96V464.4V459.36V461.88H631.17V470.66V475.7V473.18H632.38V484.83V479.79V482.31H633.59V483.28V488.32V485.8H634.79V484.83V479.79V482.31H636V470.66V475.7V473.18H637.21V464.4V459.36V461.88H638.42V450.23V455.27V452.75H639.63V451.78V446.74V449.26H640.83V450.23V455.27V452.75H642.04V464.4V459.36V461.88H643.25V470.66V475.7V473.18H644.46V484.83V479.79V482.31H645.66V483.28V488.32V485.8H646.87V484.83V479.79V482.31H648.08V470.66V475.7V473.18H649.29V464.4V459.36V461.88H650.5V450.23V455.27V452.75H651.7V451.78V446.74V449.26H652.91V450.23V455.27V452.75H654.12V464.4V459.36V461.88H655.33V470.66V475.7V473.18H656.53V484.83V479.79V482.31H657.74V483.28V488.32V485.8H658.95V484.83V479.79V482.31H660.16V470.66V475.7V473.18H661.37V464.4V459.36V461.88H662.57V450.23V455.27V452.75H663.78V451.78V446.74V449.26H664.99V450.23V455.27V452.75H666.2V464.4V459.36V461.88H667.41V470.66V475.7V473.18H668.61V484.83V479.79V482.31H669.7V483.28V488.32V485.8H669.7" fill="none" stroke="#b94fb0" stroke-width="1.1" stroke-linejoin="miter"/>
<rect x="65.8" y="340.6" width="603.9" height="210" fill="none" stroke="#5a5a5a" stroke-width="1.6"/>
<line x1="126.19" y1="340.6" x2="126.19" y2="346.6" stroke="#5a5a5a" stroke-width="1.5"/>
<line x1="126.19" y1="550.6" x2="126.19" y2="544.6" stroke="#5a5a5a" stroke-width="1.5"/>
<line x1="186.58" y1="340.6" x2="186.58" y2="346.6" stroke="#5a5a5a" stroke-width="1.5"/>
<line x1="186.58" y1="550.6" x2="186.58" y2="544.6" stroke="#5a5a5a" stroke-width="1.5"/>
<line x1="246.97" y1="340.6" x2="246.97" y2="346.6" stroke="#5a5a5a" stroke-width="1.5"/>
<line x1="246.97" y1="550.6" x2="246.97" y2="544.6" stroke="#5a5a5a" stroke-width="1.5"/>
<line x1="307.36" y1="340.6" x2="307.36" y2="346.6" stroke="#5a5a5a" stroke-width="1.5"/>
<line x1="307.36" y1="550.6" x2="307.36" y2="544.6" stroke="#5a5a5a" stroke-width="1.5"/>
<line x1="367.75" y1="340.6" x2="367.75" y2="346.6" stroke="#5a5a5a" stroke-width="1.5"/>
<line x1="367.75" y1="550.6" x2="367.75" y2="544.6" stroke="#5a5a5a" stroke-width="1.5"/>
<line x1="428.14" y1="340.6" x2="428.14" y2="346.6" stroke="#5a5a5a" stroke-width="1.5"/>
<line x1="428.14" y1="550.6" x2="428.14" y2="544.6" stroke="#5a5a5a" stroke-width="1.5"/>
<line x1="488.53" y1="340.6" x2="488.53" y2="346.6" stroke="#5a5a5a" stroke-width="1.5"/>
<line x1="488.53" y1="550.6" x2="488.53" y2="544.6" stroke="#5a5a5a" stroke-width="1.5"/>
<line x1="548.92" y1="340.6" x2="548.92" y2="346.6" stroke="#5a5a5a" stroke-width="1.5"/>
<line x1="548.92" y1="550.6" x2="548.92" y2="544.6" stroke="#5a5a5a" stroke-width="1.5"/>
<line x1="609.31" y1="340.6" x2="609.31" y2="346.6" stroke="#5a5a5a" stroke-width="1.5"/>
<line x1="609.31" y1="550.6" x2="609.31" y2="544.6" stroke="#5a5a5a" stroke-width="1.5"/>
<line x1="65.8" y1="382.9" x2="71.8" y2="382.9" stroke="#5a5a5a" stroke-width="1.5"/>
<line x1="669.7" y1="382.9" x2="663.7" y2="382.9" stroke="#5a5a5a" stroke-width="1.5"/>
<line x1="65.8" y1="424.9" x2="71.8" y2="424.9" stroke="#5a5a5a" stroke-width="1.5"/>
<line x1="669.7" y1="424.9" x2="663.7" y2="424.9" stroke="#5a5a5a" stroke-width="1.5"/>
<line x1="65.8" y1="466.9" x2="71.8" y2="466.9" stroke="#5a5a5a" stroke-width="1.5"/>
<line x1="669.7" y1="466.9" x2="663.7" y2="466.9" stroke="#5a5a5a" stroke-width="1.5"/>
<line x1="65.8" y1="508.9" x2="71.8" y2="508.9" stroke="#5a5a5a" stroke-width="1.5"/>
<line x1="669.7" y1="508.9" x2="663.7" y2="508.9" stroke="#5a5a5a" stroke-width="1.5"/>
<text x="60.5" y="346.6" text-anchor="end" class="tk" font-size="18">15</text>
<text x="60.5" y="389.6" text-anchor="end" class="tk" font-size="18">10</text>
<text x="60.5" y="431.1" text-anchor="end" class="tk" font-size="18">5</text>
<text x="60.5" y="473.3" text-anchor="end" class="tk" font-size="18">0</text>
<text x="60.5" y="515.1" text-anchor="end" class="tk" font-size="18">-5</text>
<text x="60.5" y="558.5" text-anchor="end" class="tk" font-size="18">-10</text>
<text x="65.8" y="573.7" text-anchor="middle" class="tk" font-size="18">0</text>
<text x="126.19" y="573.7" text-anchor="middle" class="tk" font-size="18">0.1</text>
<text x="186.58" y="573.7" text-anchor="middle" class="tk" font-size="18">0.2</text>
<text x="246.97" y="573.7" text-anchor="middle" class="tk" font-size="18">0.3</text>
<text x="307.36" y="573.7" text-anchor="middle" class="tk" font-size="18">0.4</text>
<text x="367.75" y="573.7" text-anchor="middle" class="tk" font-size="18">0.5</text>
<text x="428.14" y="573.7" text-anchor="middle" class="tk" font-size="18">0.6</text>
<text x="488.53" y="573.7" text-anchor="middle" class="tk" font-size="18">0.7</text>
<text x="548.92" y="573.7" text-anchor="middle" class="tk" font-size="18">0.8</text>
<text x="609.31" y="573.7" text-anchor="middle" class="tk" font-size="18">0.9</text>
<text x="669.7" y="573.7" text-anchor="middle" class="tk" font-size="18">1</text>
<rect x="275.4" y="352.4" width="185.8" height="79.3" fill="#fff"/>
<line x1="312.56" y1="352.4" x2="312.56" y2="431.7" stroke="#e6e6e6" stroke-width="1"/>
<line x1="349.72" y1="352.4" x2="349.72" y2="431.7" stroke="#e6e6e6" stroke-width="1"/>
<line x1="386.88" y1="352.4" x2="386.88" y2="431.7" stroke="#e6e6e6" stroke-width="1"/>
<line x1="424.04" y1="352.4" x2="424.04" y2="431.7" stroke="#e6e6e6" stroke-width="1"/>
<line x1="275.4" y1="392.05" x2="461.2" y2="392.05" stroke="#e6e6e6" stroke-width="1"/>
<path d="M275.4 406.72L275.84 409.82L276.28 406.55L276.73 409.28L277.17 406.04L277.61 408.23L278.05 405.22L278.5 406.75L278.94 404.09L279.38 404.94L279.82 402.7L280.27 402.91L280.71 401.08L281.15 400.76L281.59 399.27L282.04 398.57L282.48 397.31L282.92 396.37L283.36 395.25L283.81 394.2L284.25 393.12L284.69 392.05L285.13 390.98L285.57 389.91L286.02 388.82L286.46 387.81L286.9 386.63L287.34 385.79L287.79 384.43L288.23 383.9L288.67 382.25L289.11 382.18L289.56 380.15L290 380.67L290.44 378.22L290.88 379.41L291.33 376.56L291.77 378.43L292.21 375.29L292.65 377.76L293.1 374.48L293.54 377.42L293.98 374.21L294.42 377.42L294.86 374.48L295.31 377.76L295.75 375.29L296.19 378.43L296.63 376.56L297.08 379.41L297.52 378.22L297.96 380.67L298.4 380.15L298.85 382.18L299.29 382.25L299.73 383.9L300.17 384.43L300.62 385.79L301.06 386.63L301.5 387.81L301.94 388.82L302.39 389.91L302.83 390.98L303.27 392.05L303.71 393.12L304.15 394.2L304.6 395.25L305.04 396.37L305.48 397.31L305.92 398.57L306.37 399.27L306.81 400.76L307.25 401.08L307.69 402.91L308.14 402.7L308.58 404.94L309.02 404.09L309.46 406.75L309.91 405.22L310.35 408.23L310.79 406.04L311.23 409.28L311.68 406.55L312.12 409.82L312.56 406.72L313 409.82L313.44 406.55L313.89 409.28L314.33 406.04L314.77 408.23L315.21 405.22L315.66 406.75L316.1 404.09L316.54 404.94L316.98 402.7L317.43 402.91L317.87 401.08L318.31 400.76L318.75 399.27L319.2 398.57L319.64 397.31L320.08 396.37L320.52 395.25L320.97 394.2L321.41 393.12L321.85 392.05L322.29 390.98L322.73 389.91L323.18 388.82L323.62 387.81L324.06 386.63L324.5 385.79L324.95 384.43L325.39 383.9L325.83 382.25L326.27 382.18L326.72 380.15L327.16 380.67L327.6 378.22L328.04 379.41L328.49 376.56L328.93 378.43L329.37 375.29L329.81 377.76L330.26 374.48L330.7 377.42L331.14 374.21L331.58 377.42L332.02 374.48L332.47 377.76L332.91 375.29L333.35 378.43L333.79 376.56L334.24 379.41L334.68 378.22L335.12 380.67L335.56 380.15L336.01 382.18L336.45 382.25L336.89 383.9L337.33 384.43L337.78 385.79L338.22 386.63L338.66 387.81L339.1 388.82L339.55 389.91L339.99 390.98L340.43 392.05L340.87 393.12L341.31 394.2L341.76 395.25L342.2 396.37L342.64 397.31L343.08 398.57L343.53 399.27L343.97 400.76L344.41 401.08L344.85 402.91L345.3 402.7L345.74 404.94L346.18 404.09L346.62 406.75L347.07 405.22L347.51 408.23L347.95 406.04L348.39 409.28L348.84 406.55L349.28 409.82L349.72 406.72L350.16 409.82L350.6 406.55L351.05 409.28L351.49 406.04L351.93 408.23L352.37 405.22L352.82 406.75L353.26 404.09L353.7 404.94L354.14 402.7L354.59 402.91L355.03 401.08L355.47 400.76L355.91 399.27L356.36 398.57L356.8 397.31L357.24 396.37L357.68 395.25L358.13 394.2L358.57 393.12L359.01 392.05L359.45 390.98L359.89 389.91L360.34 388.82L360.78 387.81L361.22 386.63L361.66 385.79L362.11 384.43L362.55 383.9L362.99 382.25L363.43 382.18L363.88 380.15L364.32 380.67L364.76 378.22L365.2 379.41L365.65 376.56L366.09 378.43L366.53 375.29L366.97 377.76L367.42 374.48L367.86 377.42L368.3 374.21L368.74 377.42L369.18 374.48L369.63 377.76L370.07 375.29L370.51 378.43L370.95 376.56L371.4 379.41L371.84 378.22L372.28 380.67L372.72 380.15L373.17 382.18L373.61 382.25L374.05 383.9L374.49 384.43L374.94 385.79L375.38 386.63L375.82 387.81L376.26 388.82L376.71 389.91L377.15 390.98L377.59 392.05L378.03 393.12L378.47 394.2L378.92 395.25L379.36 396.37L379.8 397.31L380.24 398.57L380.69 399.27L381.13 400.76L381.57 401.08L382.01 402.91L382.46 402.7L382.9 404.94L383.34 404.09L383.78 406.75L384.23 405.22L384.67 408.23L385.11 406.04L385.55 409.28L386 406.55L386.44 409.82L386.88 406.72L387.32 409.82L387.76 406.55L388.21 409.28L388.65 406.04L389.09 408.23L389.53 405.22L389.98 406.75L390.42 404.09L390.86 404.94L391.3 402.7L391.75 402.91L392.19 401.08L392.63 400.76L393.07 399.27L393.52 398.57L393.96 397.31L394.4 396.37L394.84 395.25L395.29 394.2L395.73 393.12L396.17 392.05L396.61 390.98L397.05 389.91L397.5 388.82L397.94 387.81L398.38 386.63L398.82 385.79L399.27 384.43L399.71 383.9L400.15 382.25L400.59 382.18L401.04 380.15L401.48 380.67L401.92 378.22L402.36 379.41L402.81 376.56L403.25 378.43L403.69 375.29L404.13 377.76L404.58 374.48L405.02 377.42L405.46 374.21L405.9 377.42L406.34 374.48L406.79 377.76L407.23 375.29L407.67 378.43L408.11 376.56L408.56 379.41L409 378.22L409.44 380.67L409.88 380.15L410.33 382.18L410.77 382.25L411.21 383.9L411.65 384.43L412.1 385.79L412.54 386.63L412.98 387.81L413.42 388.82L413.87 389.91L414.31 390.98L414.75 392.05L415.19 393.12L415.63 394.2L416.08 395.25L416.52 396.37L416.96 397.31L417.4 398.57L417.85 399.27L418.29 400.76L418.73 401.08L419.17 402.91L419.62 402.7L420.06 404.94L420.5 404.09L420.94 406.75L421.39 405.22L421.83 408.23L422.27 406.04L422.71 409.28L423.16 406.55L423.6 409.82L424.04 406.72L424.48 409.82L424.92 406.55L425.37 409.28L425.81 406.04L426.25 408.23L426.69 405.22L427.14 406.75L427.58 404.09L428.02 404.94L428.46 402.7L428.91 402.91L429.35 401.08L429.79 400.76L430.23 399.27L430.68 398.57L431.12 397.31L431.56 396.37L432 395.25L432.45 394.2L432.89 393.12L433.33 392.05L433.77 390.98L434.21 389.91L434.66 388.82L435.1 387.81L435.54 386.63L435.98 385.79L436.43 384.43L436.87 383.9L437.31 382.25L437.75 382.18L438.2 380.15L438.64 380.67L439.08 378.22L439.52 379.41L439.97 376.56L440.41 378.43L440.85 375.29L441.29 377.76L441.74 374.48L442.18 377.42L442.62 374.21L443.06 377.42L443.5 374.48L443.95 377.76L444.39 375.29L444.83 378.43L445.27 376.56L445.72 379.41L446.16 378.22L446.6 380.67L447.04 380.15L447.49 382.18L447.93 382.25L448.37 383.9L448.81 384.43L449.26 385.79L449.7 386.63L450.14 387.81L450.58 388.82L451.03 389.91L451.47 390.98L451.91 392.05L452.35 393.12L452.79 394.2L453.24 395.25L453.68 396.37L454.12 397.31L454.56 398.57L455.01 399.27L455.45 400.76L455.89 401.08L456.33 402.91L456.78 402.7L457.22 404.94L457.66 404.09L458.1 406.75L458.55 405.22L458.99 408.23L459.43 406.04L459.87 409.28L460.32 406.55L460.76 409.82L461.2 406.72" fill="none" stroke="#b94fb0" stroke-width="2.15" stroke-linejoin="round"/>
<rect x="275.4" y="352.4" width="185.8" height="79.3" fill="none" stroke="#5a5a5a" stroke-width="1.5"/>
<line x1="312.56" y1="352.4" x2="312.56" y2="355.2" stroke="#5a5a5a" stroke-width="1.2"/>
<line x1="312.56" y1="431.7" x2="312.56" y2="428.9" stroke="#5a5a5a" stroke-width="1.2"/>
<line x1="349.72" y1="352.4" x2="349.72" y2="355.2" stroke="#5a5a5a" stroke-width="1.2"/>
<line x1="349.72" y1="431.7" x2="349.72" y2="428.9" stroke="#5a5a5a" stroke-width="1.2"/>
<line x1="386.88" y1="352.4" x2="386.88" y2="355.2" stroke="#5a5a5a" stroke-width="1.2"/>
<line x1="386.88" y1="431.7" x2="386.88" y2="428.9" stroke="#5a5a5a" stroke-width="1.2"/>
<line x1="424.04" y1="352.4" x2="424.04" y2="355.2" stroke="#5a5a5a" stroke-width="1.2"/>
<line x1="424.04" y1="431.7" x2="424.04" y2="428.9" stroke="#5a5a5a" stroke-width="1.2"/>
<line x1="275.4" y1="392.05" x2="278.2" y2="392.05" stroke="#5a5a5a" stroke-width="1.2"/>
<line x1="461.2" y1="392.05" x2="458.4" y2="392.05" stroke="#5a5a5a" stroke-width="1.2"/>
<text x="271.4" y="357.4" text-anchor="end" class="tk" font-size="11.5">5</text>
<text x="271.4" y="397.05" text-anchor="end" class="tk" font-size="11.5">0</text>
<text x="271.4" y="436.7" text-anchor="end" class="tk" font-size="11.5">-5</text>
<text x="275.4" y="447.9" text-anchor="middle" class="tk" font-size="12">1</text>
<text x="312.56" y="447.9" text-anchor="middle" class="tk" font-size="12">1.02</text>
<text x="349.72" y="447.9" text-anchor="middle" class="tk" font-size="12">1.04</text>
<text x="386.88" y="447.9" text-anchor="middle" class="tk" font-size="12">1.06</text>
<text x="424.04" y="447.9" text-anchor="middle" class="tk" font-size="12">1.08</text>
<text x="461.2" y="447.9" text-anchor="middle" class="tk" font-size="12">1.1</text>
<rect x="566.4" y="27.2" width="91.6" height="44.5" fill="none" stroke="#404040" stroke-width="1.4"/>
<text x="573.6" y="47.9" class="thd" font-size="20" textLength="81.2" lengthAdjust="spacingAndGlyphs" fill="#333">THD=2.3%</text>
<rect x="493.9" y="348.9" width="172.5" height="52" fill="#fff" stroke="#222" stroke-width="1.8"/>
<rect x="666.3" y="355" width="1.6" height="46.6" fill="#222"/>
<text x="498.7" y="384.9" class="thd" font-size="31" textLength="164.3" lengthAdjust="spacingAndGlyphs" fill="#111">THD = 4.41%</text>
<text x="353.4" y="277.9" class="tk" font-size="19.6" textLength="20" lengthAdjust="spacingAndGlyphs">(a)</text>
<text x="358.6" y="615" class="tk" font-size="20.2" textLength="21.2" lengthAdjust="spacingAndGlyphs">(b)</text>
<text x="419.3" y="615.7" class="tk" font-size="21" textLength="48.4" lengthAdjust="spacingAndGlyphs">Times</text>
<rect x="26" y="0" width="659" height="1.3" fill="#111"/>
<rect x="25" y="0" width="2" height="622" fill="#555"/>
<rect x="683.8" y="0" width="1.2" height="622" fill="#888"/>
<rect x="26" y="620.2" width="659" height="1.8" fill="#111"/>
<text transform="translate(21.8,310.4) rotate(-90)" text-anchor="middle" class="cur" font-size="29">Current</text>
</svg>
</body></html>
